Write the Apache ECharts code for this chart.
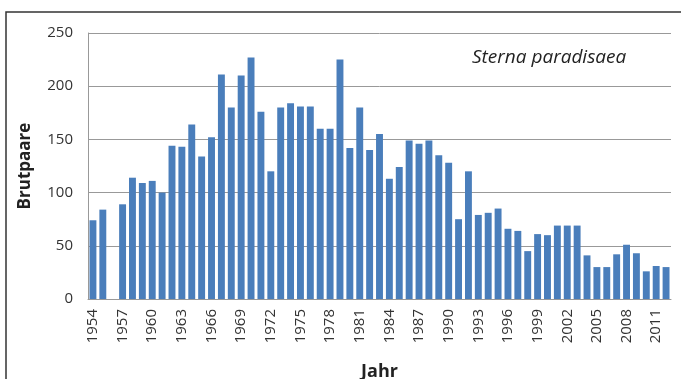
<!DOCTYPE html>
<html>
<head>
<meta charset="utf-8">
<script src="https://cdn.jsdelivr.net/npm/echarts@6/dist/echarts.min.js"></script>
<style>
  html, body { margin: 0; padding: 0; background: #fff; }
  #chart { width: 681px; height: 379px; }
</style>
</head>
<body>
<div id="chart"></div>
<script>
// Jahre 1954 - 2012
var years = [];
for (var y = 1954; y <= 2012; y++) years.push(String(y));

// Brutpaare pro Jahr (1956 fehlt)
var brutpaare = [
  74, 84, null, 89, 114, 109, 111, 100, 144, 143,
  164, 134, 152, 211, 180, 210, 227, 176, 120, 180,
  184, 181, 181, 160, 160, 225, 142, 180, 140, 155,
  113, 124, 149, 146, 149, 135, 128, 75, 120, 79,
  81, 85, 66, 64, 45, 61, 60, 69, 69, 69,
  41, 30, 30, 42, 51, 43, 26, 31, 30
];

var yTicks = [0, 50, 100, 150, 200, 250];

var myChart = echarts.init(document.getElementById('chart'));
var fontFam = '"Open Sans", "Liberation Sans", sans-serif';

var option = {
  animation: false,
  textStyle: { fontFamily: fontFam },
  graphic: [
    { // Rahmen
      type: 'rect',
      shape: { x: 6, y: 12, width: 690, height: 400 },
      style: { fill: 'none', stroke: '#333', lineWidth: 1.5 },
      silent: true
    },
    {
      type: 'text',
      left: 472, top: 48,
      style: { text: 'Sterna paradisaea', fontStyle: 'italic', fontSize: 19, fill: '#222', fontFamily: fontFam }
    }
  ],
  grid: { left: 88, top: 33, right: 10, bottom: 80, containLabel: false, outerBoundsMode: 'none' },
  xAxis: {
    type: 'category',
    data: years,
    name: 'Jahr',
    nameLocation: 'middle',
    nameGap: 64,
    nameTextStyle: { fontWeight: 'bold', fontSize: 18, color: '#222' },
    axisLine: { lineStyle: { color: '#999', width: 1 } },
    axisTick: { show: false },
    axisLabel: {
      interval: 2,
      rotate: 90,
      margin: 10,
      fontSize: 15,
      color: '#333'
    }
  },
  yAxis: {
    type: 'value',
    min: yTicks[0],
    max: yTicks[yTicks.length - 1],
    interval: 50,
    name: 'Brutpaare',
    nameLocation: 'middle',
    nameGap: 54,
    nameTextStyle: { fontWeight: 'bold', fontSize: 17, color: '#222' },
    axisLine: { show: true, lineStyle: { color: '#999', width: 1 } },
    axisTick: { show: false },
    axisLabel: { fontSize: 15, color: '#333', margin: 15 },
    splitLine: { show: true, lineStyle: { color: '#999', width: 1 } }
  },
  series: [{
    type: 'bar',
    data: brutpaare,
    barCategoryGap: '30%',
    itemStyle: { color: '#4a7ebb' }
  }]
};

myChart.setOption(option, true);
window.addEventListener('resize', myChart.resize);
</script>
</body>
</html>
